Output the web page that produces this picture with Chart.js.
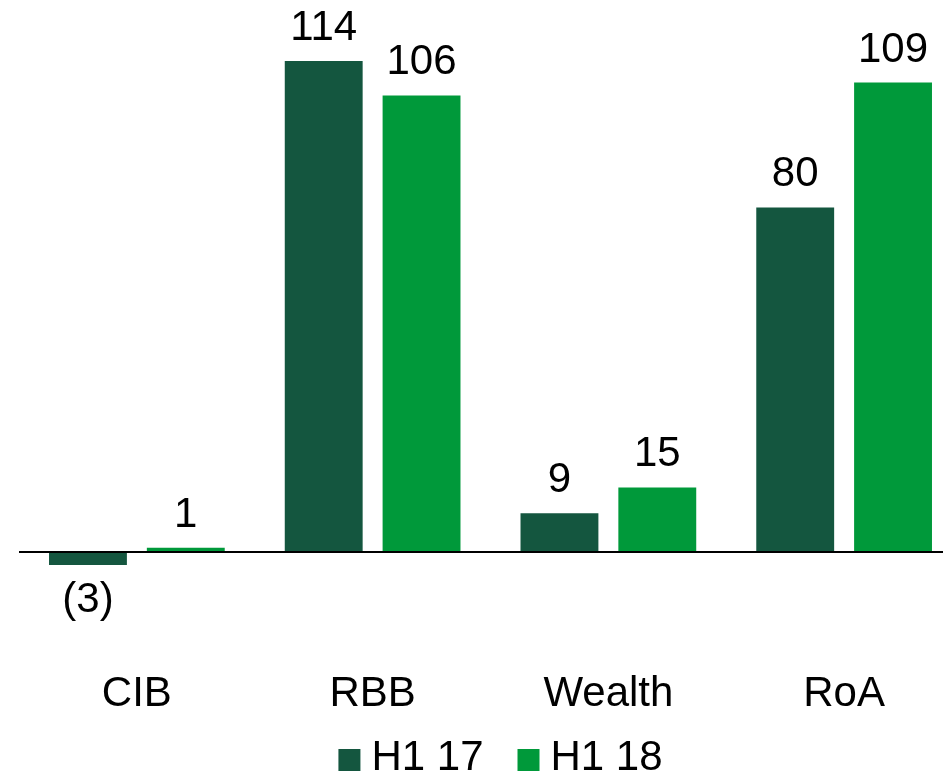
<!DOCTYPE html>
<html>
<head>
<meta charset="utf-8">
<script src="https://cdn.jsdelivr.net/npm/chart.js@4"></script>
<style>
  html, body { margin:0; padding:0; background:#fff; overflow:hidden; }
  #wrap { width:962px; height:776px; }
</style>
</head>
<body>
<div id="wrap"><canvas id="chart" width="962" height="776"></canvas></div>
<script>
// chart data
const categories = ['CIB', 'RBB', 'Wealth', 'RoA'];
const seriesNames = ['H1 17', 'H1 18'];
const h117 = [-3, 114, 9, 80];
const h118 = [1, 106, 15, 109];
const seriesColors = ['#14563F', '#00993A'];

const FONT = '"Liberation Sans", Arial, sans-serif';

// value labels above (or below for negatives) each bar
const valueLabels = {
  id: 'valueLabels',
  afterDatasetsDraw(chart){
    const ctx = chart.ctx;
    ctx.save();
    ctx.font = '42px ' + FONT;
    ctx.fillStyle = '#000';
    ctx.textAlign = 'center';
    ctx.textBaseline = 'alphabetic';
    chart.data.datasets.forEach((ds, di)=>{
      chart.getDatasetMeta(di).data.forEach((bar, i)=>{
        const v = ds.data[i];
        if (v < 0) {
          ctx.fillText('(' + Math.abs(v) + ')', bar.x, bar.y + 47);
        } else {
          ctx.fillText(String(v), bar.x, bar.y - 21);
        }
      });
    });
    ctx.restore();
  }
};

// legend drawn at the bottom from the dataset labels / colours
const bottomLegend = {
  id: 'bottomLegend',
  afterDraw(chart){
    const ctx = chart.ctx;
    const box = 22, gapText = 11, gapItem = 34;
    ctx.save();
    ctx.font = '42px ' + FONT;
    ctx.textBaseline = 'alphabetic';
    ctx.textAlign = 'left';
    const items = chart.data.datasets.map(ds => ({ text: ds.label, color: ds.backgroundColor, w: ctx.measureText(ds.label).width }));
    const total = items.reduce((s, it) => s + box + gapText + it.w, 0) + gapItem * (items.length - 1);
    let x = 500.5 - total / 2;
    items.forEach(it => {
      ctx.fillStyle = it.color;
      ctx.fillRect(x, 749, box, box);
      ctx.fillStyle = '#000';
      ctx.fillText(it.text, x + box + gapText, 770);
      x += box + gapText + it.w + gapItem;
    });
    ctx.restore();
  }
};

new Chart(document.getElementById('chart').getContext('2d'), {
  type: 'bar',
  data: {
    labels: categories,
    datasets: [
      { label: seriesNames[0], data: h117, backgroundColor: seriesColors[0] },
      { label: seriesNames[1], data: h118, backgroundColor: seriesColors[1] }
    ]
  },
  options: {
    responsive: false,
    animation: false,
    categoryPercentage: 0.83,
    barPercentage: 0.796,
    layout: { padding: { left: 19, right: 0, top: 0, bottom: 60 } },
    plugins: {
      tooltip: { enabled: false },
      legend: { display: false }
    },
    scales: {
      x: {
        grid: { display: false },
        border: { display: false },
        ticks: { color: '#000', font: { family: FONT, size: 42 }, padding: 21 },
        afterFit(scale){ scale.height = 76; }
      },
      y: {
        min: -20.43,
        max: 128.16,
        ticks: { display: false },
        border: { display: false },
        grid: {
          drawTicks: false,
          lineWidth: 2,
          color: c => c.tick && c.tick.value === 0 ? '#000' : 'rgba(0,0,0,0)'
        },
        afterFit(scale){ scale.width = 0; }
      }
    }
  },
  plugins: [valueLabels, bottomLegend]
});
</script>
</body>
</html>
